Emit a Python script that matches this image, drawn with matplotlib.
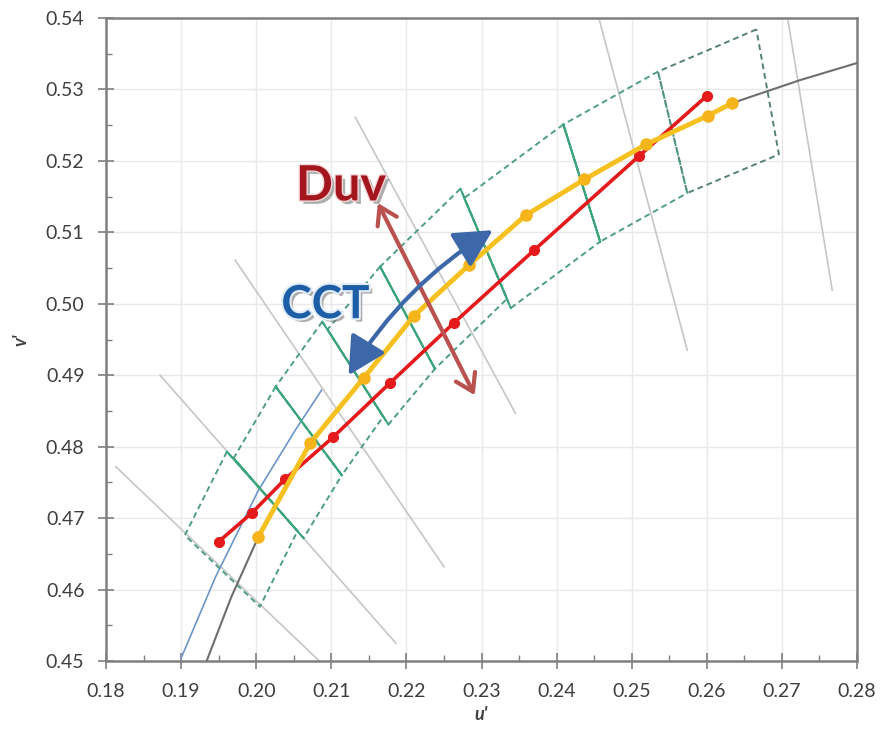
import matplotlib
matplotlib.use('Agg')
import matplotlib.pyplot as plt
import matplotlib.patheffects as pe
from matplotlib.ticker import MultipleLocator

plt.rcParams['font.family'] = ['Lato', 'DejaVu Sans']

# red series (u', v')
red_u = [0.1950, 0.1994, 0.2039, 0.2102, 0.2178, 0.2263, 0.2370, 0.2510, 0.2600]
red_v = [0.4667, 0.4707, 0.4755, 0.4813, 0.4889, 0.4973, 0.5075, 0.5207, 0.5291]

# yellow series
yel_u = [0.2003, 0.2072, 0.2143, 0.2210, 0.2283, 0.2359, 0.2437, 0.2519, 0.2601, 0.2634]
yel_v = [0.4674, 0.4805, 0.4896, 0.4983, 0.5054, 0.5124, 0.5174, 0.5223, 0.5263, 0.5281]

# planckian locus (dark grey)
planck_u = [0.1934, 0.1967, 0.2003, 0.2072, 0.2143, 0.2210, 0.2283, 0.2359,
            0.2437, 0.2519, 0.2601, 0.2634, 0.2724, 0.2800]
planck_v = [0.4500, 0.4590, 0.4674, 0.4805, 0.4896, 0.4983, 0.5054, 0.5124,
            0.5174, 0.5223, 0.5263, 0.5281, 0.5313, 0.5337]

# thin blue curve
blue_u = [0.1900, 0.1946, 0.2003, 0.2052, 0.2087]
blue_v = [0.4504, 0.4618, 0.4739, 0.4823, 0.4879]

# iso-CCT lines (light grey), start/end
iso_u = [[0.1813, 0.2084], [0.1872, 0.2186], [0.1972, 0.2250],
         [0.2132, 0.2345], [0.2457, 0.2574], [0.2708, 0.2767]]
iso_v = [[0.4772, 0.4500], [0.4900, 0.4525], [0.5061, 0.4632],
         [0.5261, 0.4847], [0.5397, 0.4935], [0.5397, 0.5019]]

# ANSI quadrangles, corners 1..4
quad_names = ['2700K', '3000K', '3500K', '4000K', '4500K', '5000K', '5700K', '6500K']
quad_u = [[0.2666, 0.2535, 0.2574, 0.2696],
          [0.2535, 0.2409, 0.2458, 0.2574],
          [0.2409, 0.2277, 0.2339, 0.2458],
          [0.2272, 0.2165, 0.2238, 0.2334],
          [0.2165, 0.2095, 0.2176, 0.2238],
          [0.2088, 0.2026, 0.2114, 0.2169],
          [0.2026, 0.1970, 0.2063, 0.2114],
          [0.1961, 0.1905, 0.2005, 0.2055]]
quad_v = [[0.5384, 0.5325, 0.5155, 0.5209],
          [0.5325, 0.5251, 0.5087, 0.5155],
          [0.5251, 0.5148, 0.4994, 0.5087],
          [0.5161, 0.5052, 0.4909, 0.5007],
          [0.5052, 0.4964, 0.4831, 0.4909],
          [0.4975, 0.4884, 0.4760, 0.4842],
          [0.4884, 0.4784, 0.4672, 0.4760],
          [0.4793, 0.4676, 0.4576, 0.4682]]

xticks = [0.18, 0.19, 0.20, 0.21, 0.22, 0.23, 0.24, 0.25, 0.26, 0.27, 0.28]
yticks = [0.45, 0.46, 0.47, 0.48, 0.49, 0.50, 0.51, 0.52, 0.53, 0.54]

fig = plt.figure(figsize=(8.81, 7.31), dpi=100)
ax = fig.add_axes([106/881, 70/731, 751/881, 643/731])

ax.set_xlim(0.18, 0.28)
ax.set_ylim(0.45, 0.54)
ax.set_xticks(xticks)
ax.set_xticklabels(['%.2f' % t for t in xticks])
ax.set_yticks(yticks)
ax.set_yticklabels(['%.2f' % t for t in yticks])
ax.xaxis.set_minor_locator(MultipleLocator(0.005))
ax.yaxis.set_minor_locator(MultipleLocator(0.005))
ax.tick_params(which='major', direction='inout', length=11, width=1.2,
               color='#7f7f7f', labelsize=14, labelcolor='#3f3f3f', pad=10)
ax.tick_params(which='minor', direction='in', length=4, width=1.0, color='#7f7f7f')
for s in ax.spines.values():
    s.set_color('#808080')
    s.set_linewidth(1.8)
ax.grid(True, which='major', color='#e9e9e9', lw=1)
ax.set_axisbelow(True)

for u, v in zip(iso_u, iso_v):
    ax.plot(u, v, color='#c6c6c6', lw=1.2, zorder=2)

ax.plot(blue_u, blue_v, color='#6b95c9', lw=1.2, zorder=3)

# quadrangles: dashed outlines, solid green between neighbours
for i, (qu, qv) in enumerate(zip(quad_u, quad_v)):
    dcol = '#55807a' if i == 0 else '#4f9d88'
    ax.plot(qu + [qu[0]], qv + [qv[0]], ls=(0, (3, 2)), color=dcol, lw=1.4, zorder=3)
for i in range(1, 7):
    ax.plot([quad_u[i][1], quad_u[i][2]], [quad_v[i][1], quad_v[i][2]],
            color='#3aa57a', lw=1.4, zorder=3)
for i in range(2, 8):
    ax.plot([quad_u[i][3], quad_u[i][0]], [quad_v[i][3], quad_v[i][0]],
            color='#3aa57a', lw=1.4, zorder=3)

ax.plot(planck_u, planck_v, color='#6e6e6e', lw=1.5, zorder=4)

ax.plot(red_u, red_v, '-o', color='#e41a1c', lw=2.6, ms=7, zorder=5)
ax.plot(yel_u, yel_v, '-o', color='#f7c021', mfc='#f5b41a', mec='#f5b41a',
        lw=3.5, ms=8, zorder=6)

# Duv arrow
ax.annotate('', xy=(0.2162, 0.5141), xytext=(0.2291, 0.4872),
            arrowprops=dict(arrowstyle='<->,head_length=0.55,head_width=0.35',
                            color='#b9514f', lw=3, mutation_scale=22,
                            shrinkA=0, shrinkB=0), zorder=8)
# CCT arrow
ax.annotate('', xy=(0.2315, 0.5103), xytext=(0.2123, 0.4900),
            arrowprops=dict(arrowstyle='<|-|>,head_length=1.05,head_width=0.55',
                            color='#3c67a9', lw=3, mutation_scale=22,
                            connectionstyle='arc3,rad=-0.12',
                            shrinkA=0, shrinkB=0), zorder=8)

ax.text(0.2113, 0.5165, 'Duv', fontsize=35, fontweight='bold', color='#a3161e',
        ha='center', va='center', zorder=9,
        path_effects=[pe.SimplePatchShadow(offset=(2.5, -2.5), shadow_rgbFace='#777777', alpha=0.6),
                      pe.Stroke(linewidth=2, foreground='#f3d6d6'), pe.Normal()])
ax.text(0.2092, 0.4998, 'CCT', fontsize=33, fontweight='bold', color='#1d5ea6',
        ha='center', va='center', zorder=9,
        path_effects=[pe.SimplePatchShadow(offset=(2.5, -2.5), shadow_rgbFace='#777777', alpha=0.6),
                      pe.Stroke(linewidth=3, foreground='#e2ecf7'), pe.Normal()])

ax.set_xlabel("u'", fontsize=13, fontweight='bold', style='italic', color='#3f3f3f', labelpad=5)
ax.set_ylabel("v'", fontsize=13, fontweight='bold', style='italic', color='#3f3f3f', labelpad=12)

fig.savefig('out.png', dpi=100)
